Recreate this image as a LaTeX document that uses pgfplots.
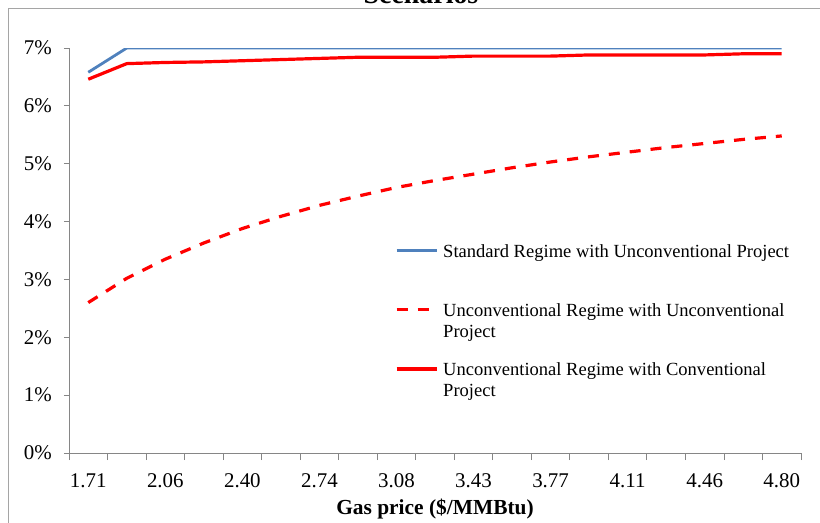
\documentclass[border=0pt]{standalone}
\usepackage{fontspec}
\setmainfont{Liberation Serif}
\usepackage{pgfplots}
\pgfplotsset{compat=1.18}
\definecolor{xlblue}{RGB}{79,129,189}
\definecolor{axgray}{RGB}{134,134,134}
\definecolor{bordergray}{RGB}{165,165,165}
\begin{document}
\begin{tikzpicture}
\begin{axis}[
  at={(0bp,0bp)}, anchor=south west,
  scale only axis, width=732bp, height=405bp,
  xmin=-0.5, xmax=18.5, ymin=0, ymax=7,
  axis x line*=bottom, axis y line*=left,
  axis line style={color=axgray, line width=0.9bp},
  tick align=outside,
  xtick={0,2,...,18},
  xticklabels={1.71,2.06,2.40,2.74,3.08,3.43,3.77,4.11,4.46,4.80},
  major x tick style={draw=none},
  minor xtick={-0.5,0.5,...,18.5},
  minor tick length=7bp,
  ytick={0,1,...,7},
  yticklabels={0\%,1\%,2\%,3\%,4\%,5\%,6\%,7\%},
  major tick length=5bp,
  every tick/.style={color=axgray, line width=0.9bp},
  tick label style={font=\fontsize{21}{25}\selectfont, inner sep=0pt},
  xticklabel style={anchor=north, yshift=-15bp},
  yticklabel style={anchor=east, xshift=-12bp},
  xlabel={\textbf{Gas price (\$/MMBtu)}},
  xlabel style={font=\fontsize{21.5}{25}\selectfont, inner sep=0pt, anchor=base, at={(axis description cs:0.5,0)}, yshift=-61bp},
  legend style={at={(axis description cs:0.4454,0.5195)}, anchor=north west, draw=none, fill=none, inner sep=0pt, outer sep=0pt, row sep=43bp, column sep=5bp,
    nodes={inner sep=0pt, outer sep=0pt}, font=\fontsize{18.6}{21}\selectfont},
  legend cell align=left,
  legend image code/.code={\draw[#1] (0bp,0bp) -- (40bp,0bp);},
]
\addplot[color=xlblue, line width=2.8bp] coordinates {
(0,6.58) (1,7) (2,7) (3,7) (4,7) (5,7) (6,7) (7,7) (8,7) (9,7)
(10,7) (11,7) (12,7) (13,7) (14,7) (15,7) (16,7) (17,7) (18,7)};
\addlegendentry{\parbox[t]{360bp}{\strut Standard Regime with Unconventional Project\\\strut}}
\addplot[color=red, line width=3.2bp, dash pattern=on 11bp off 10bp] coordinates {
(0,2.60) (1,3.02) (2,3.35) (3,3.63) (4,3.88) (5,4.09) (6,4.28) (7,4.44) (8,4.59) (9,4.71)
(10,4.82) (11,4.93) (12,5.03) (13,5.12) (14,5.20) (15,5.28) (16,5.35) (17,5.42) (18,5.48)};
\addlegendentry{\parbox[t]{360bp}{\strut Unconventional Regime with Unconventional\\\strut Project}}
\addplot[color=red, line width=3.2bp] coordinates {
(0,6.46) (1,6.73) (2,6.75) (3,6.76) (4,6.78) (5,6.80) (6,6.82) (7,6.84) (8,6.84) (9,6.84)
(10,6.86) (11,6.86) (12,6.86) (13,6.88) (14,6.88) (15,6.88) (16,6.88) (17,6.90) (18,6.90)};
\addlegendentry{\parbox[t]{360bp}{\strut Unconventional Regime with Conventional\\\strut Project}}
\end{axis}
\draw[color=bordergray, line width=1bp] (-60bp,-90bp) -- (-60bp,444bp) -- (770bp,444bp);
\node[anchor=base, font=\bfseries\fontsize{28}{32}\selectfont, inner sep=0pt] at (352bp,449bp) {Scenarios};
\pgfresetboundingbox
\useasboundingbox (-69bp,-70bp) rectangle (751bp,453bp);
\end{tikzpicture}
\end{document}
